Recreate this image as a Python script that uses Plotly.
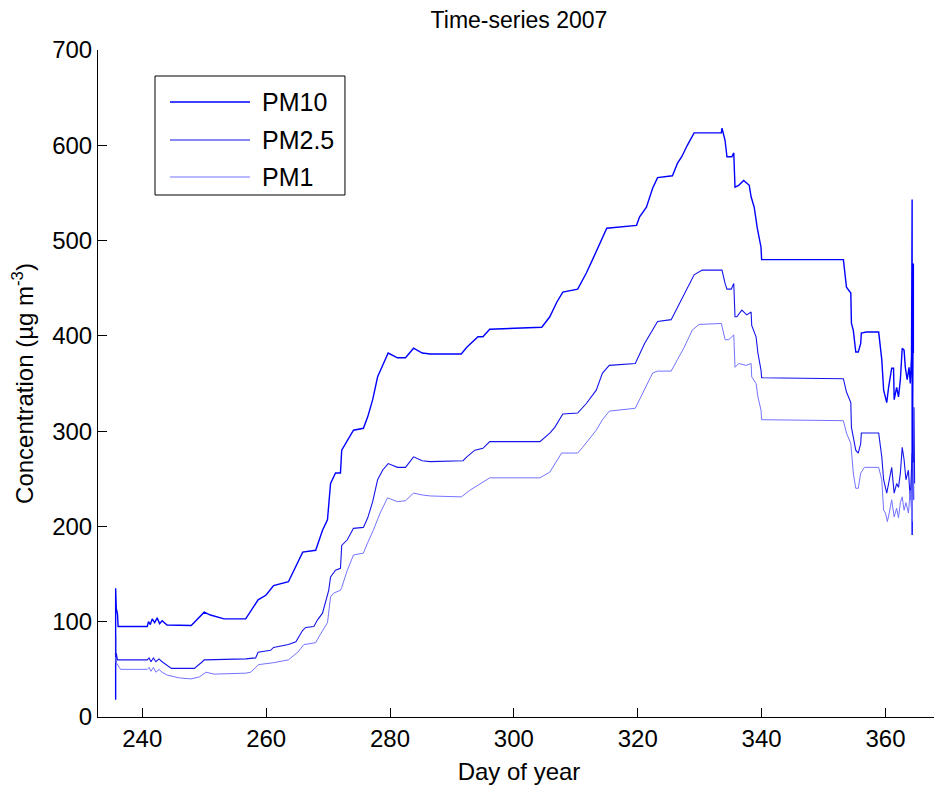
import plotly.graph_objects as go

# ---- data ----
pm10_day = [235.7, 235.7, 235.8, 236.0, 236.1, 240.8, 241.0, 241.3, 241.6, 242.0, 242.4, 242.8, 243.2, 244.0,
            247.9, 250.0, 251.0, 253.2, 256.7, 258.7, 260.0, 261.2, 263.6, 265.9, 268.0, 269.1, 269.9, 270.4,
            271.2, 272.0, 272.2, 274.1, 275.7, 276.4, 277.2, 278.0, 278.9, 279.7, 281.2, 282.5, 283.8, 285.2,
            286.5, 291.5, 292.4, 294.2, 295.0, 296.1, 304.5, 305.8, 306.9, 307.9, 310.3, 311.7, 312.7, 313.8,
            315.0, 319.8, 320.3, 321.4, 322.4, 323.2, 325.6, 326.4, 327.1, 328.0, 329.1, 330.4, 333.5, 333.6,
            334.1, 334.4, 335.2, 335.5, 335.7, 336.3, 337.1, 338.0, 338.3, 338.8, 339.3, 339.9, 340.0, 353.2,
            353.7, 354.4, 354.5, 354.8, 355.2, 355.6, 356.0, 356.1, 356.9, 358.9, 359.4, 359.7, 360.2, 360.5,
            361.0, 361.3, 361.4, 361.8, 362.1, 362.4, 362.7, 363.0, 363.2, 363.5, 363.8, 364.0, 364.2, 364.3,
            364.3, 364.5, 364.5]
pm10_val = [18, 135, 114, 108, 95, 95, 100, 97, 103, 99, 104, 98, 101, 96.5,
            96, 110, 107, 103, 103, 123, 128, 138, 142, 173, 175, 196, 207, 245,
            256, 256, 280, 301, 303, 315, 333, 357, 371, 382, 377, 377, 387, 382,
            381, 381, 388, 399, 399, 407, 409, 420, 435, 446, 449, 466, 480, 495,
            513, 516, 525, 535, 555, 566, 568, 581, 588, 600, 613, 613, 613, 618,
            605, 588, 588, 592, 556, 558, 563, 558, 546, 535, 513, 493, 480, 480,
            451, 445, 413, 406, 383, 383, 392, 403, 404, 404, 375, 343, 330, 346,
            366, 366, 333, 346, 336, 354, 387, 385, 367, 354, 367, 350, 378, 543,
            191, 476, 382]

pm25_day = [235.7, 235.7, 235.8, 236.0, 240.8, 241.1, 241.4, 241.8, 242.2, 242.7, 243.2, 244.7, 248.4, 249.7,
            250.0, 256.7, 258.3, 258.7, 260.7, 261.2, 263.6, 264.8, 265.9, 266.4, 267.7, 268.3, 269.1, 270.1,
            270.4, 271.2, 272.0, 272.2, 273.1, 274.1, 275.7, 276.4, 277.2, 278.0, 278.8, 279.7, 281.2, 282.5,
            283.8, 285.2, 286.5, 291.8, 292.4, 293.7, 295.0, 296.1, 304.2, 305.8, 306.6, 307.9, 310.3, 311.7,
            313.3, 314.3, 315.4, 319.6, 320.1, 321.1, 322.2, 323.2, 325.4, 326.4, 327.2, 328.3, 329.1, 330.4,
            333.6, 334.1, 334.4, 335.1, 335.5, 335.7, 336.0, 336.8, 337.6, 338.3, 338.4, 339.1, 339.4, 339.9,
            340.0, 353.2, 353.7, 354.4, 354.5, 355.2, 355.6, 356.0, 356.1, 358.9, 359.4, 359.7, 360.2, 360.5,
            361.0, 361.4, 361.8, 362.1, 362.4, 362.7, 363.0, 363.3, 363.7, 364.0, 364.2, 364.3, 364.5, 364.6,
            364.7]
pm25_val = [84, 55, 67, 60, 60, 62, 58, 62, 58, 61, 58, 51, 51, 58,
            60, 61, 62, 68, 70, 73, 76, 79, 91, 94, 95, 102, 109, 133,
            147, 154, 156, 180, 186, 198, 199, 209, 226, 249, 259, 266, 262, 262,
            273, 269, 268, 269, 273, 280, 282, 289, 289, 298, 304, 318, 319, 329,
            343, 361, 369, 371, 378, 392, 404, 415, 417, 430, 440, 455, 464, 469,
            469, 455, 449, 449, 455, 420, 420, 427, 422, 425, 411, 399, 382, 364,
            356, 355, 341, 330, 304, 280, 277, 287, 298, 298, 273, 249, 235, 245,
            262, 235, 245, 241, 256, 283, 270, 249, 259, 228, 267, 277, 228, 325,
            245]

pm1_day = [235.7, 235.8, 236.3, 236.5, 240.8, 241.1, 241.4, 241.8, 242.2, 242.7, 243.2, 244.0, 246.0, 247.9,
           249.2, 250.3, 251.6, 256.7, 257.5, 258.8, 261.2, 263.6, 265.1, 266.1, 268.0, 268.5, 269.9, 270.4,
           270.9, 272.0, 272.2, 273.1, 274.1, 275.7, 276.4, 277.3, 278.4, 279.6, 281.2, 282.5, 283.8, 285.2,
           286.5, 291.5, 292.9, 294.2, 296.1, 304.2, 305.8, 307.7, 310.3, 311.1, 313.3, 314.3, 315.4, 319.6,
           320.3, 321.1, 322.4, 323.2, 325.4, 326.4, 327.5, 328.8, 329.9, 333.5, 334.1, 334.7, 335.5, 335.7,
           336.3, 337.5, 338.3, 338.4, 339.1, 339.4, 339.9, 340.0, 353.2, 353.7, 354.4, 354.8, 355.2, 355.6,
           356.0, 356.6, 358.9, 359.4, 359.7, 360.0, 360.3, 360.6, 361.0, 361.4, 361.8, 362.1, 362.4, 362.7,
           363.0, 363.3, 363.7, 364.0, 364.3, 364.5, 364.6]
pm1_val = [63, 57, 52, 50, 50, 52, 48, 52, 47, 50, 47, 44, 41, 40,
           42, 47, 45, 46, 47, 55, 57, 60, 68, 76, 78, 84, 99, 126,
           130, 133, 136, 154, 170, 172, 183, 196, 214, 230, 226, 227, 235, 233,
           232, 231, 238, 243, 251, 251, 257, 277, 277, 283, 301, 312, 321, 324,
           333, 343, 361, 363, 363, 375, 388, 406, 412, 413, 396, 396, 401, 367,
           371, 369, 371, 357, 350, 336, 322, 312, 311, 298, 287, 256, 240, 240,
           256, 262, 262, 249, 217, 214, 205, 214, 228, 210, 219, 209, 225, 231,
           217, 225, 214, 238, 205, 267, 228]

series_names = ["PM10", "PM2.5", "PM1"]
x_ticks = [240, 260, 280, 300, 320, 340, 360]
y_ticks = [0, 100, 200, 300, 400, 500, 600, 700]

FONT = "Liberation Sans, Arial, sans-serif"
colors = ["#0000ff", "rgb(20,20,235)", "rgb(115,115,255)"]
widths = [1.4, 1.1, 1.0]

fig = go.Figure()
for name, xs, ys, c, w in zip(series_names, [pm10_day, pm25_day, pm1_day],
                              [pm10_val, pm25_val, pm1_val], colors, widths):
    fig.add_trace(go.Scatter(x=xs, y=ys, mode="lines", name=name,
                             line=dict(color=c, width=w), showlegend=False))

# manual legend box (matching MATLAB style)
shapes = [dict(type="rect", xref="paper", yref="paper", x0=0.0677, x1=0.2933, y0=0.7826, y1=0.961,
               line=dict(color="black", width=1), fillcolor="white", layer="above")]
annotations = []
leg_y = [0.922, 0.865, 0.8096]
for name, c, w, yy in zip(series_names, colors, widths, leg_y):
    shapes.append(dict(type="line", xref="paper", yref="paper", x0=0.0855, x1=0.1805, y0=yy, y1=yy,
                       line=dict(color=c, width=w), layer="above"))
    annotations.append(dict(text=name, xref="paper", yref="paper", x=0.1924, y=yy,
                            xanchor="left", yanchor="middle", showarrow=False,
                            font=dict(size=25, family=FONT, color="black")))

fig.update_layout(
    width=934, height=784,
    margin=dict(l=90, r=2, t=42, b=75, autoexpand=False),
    paper_bgcolor="white", plot_bgcolor="white",
    font=dict(family=FONT, color="black", size=24),
    title=dict(text="Time-series 2007", x=0.5, xref="paper", xanchor="center",
               y=0.9847, yref="container", yanchor="middle", font=dict(size=23)),
    showlegend=False,
    shapes=shapes, annotations=annotations,
)
fig.update_xaxes(range=[232.85, 368.8], tickvals=x_ticks, ticks="inside", ticklen=9,
                 tickcolor="black", showline=True, linecolor="black", linewidth=1,
                 showgrid=False, zeroline=False, tickfont=dict(size=24), automargin=False,
                 title=dict(text="Day of year", font=dict(size=24), standoff=12))
fig.update_yaxes(range=[0, 700], tickvals=y_ticks, ticks="inside", ticklen=9,
                 tickcolor="black", showline=True, linecolor="black", linewidth=1,
                 showgrid=False, zeroline=False, tickfont=dict(size=24), automargin=False,
                 title=dict(text="Concentration (µg m<sup>-3</sup>)", font=dict(size=24), standoff=12))

fig.write_html("out.html")
